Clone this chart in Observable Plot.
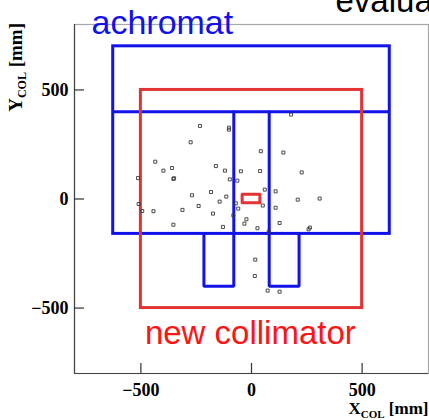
<!DOCTYPE html>
<html>
<head>
<meta charset="utf-8">
<script src="https://cdn.jsdelivr.net/npm/d3@7"></script>
<script src="https://cdn.jsdelivr.net/npm/@observablehq/plot@0.6"></script>
<style>
  html, body { margin: 0; padding: 0; background: #fff; }
  #chart svg { display: block; }
</style>
</head>
<body>
<div id="chart"></div>
<script>
// Axis extent and tick positions (mm)
const xDomain = [-800, 800];
const yDomain = [-800, 800];
const xTicks = [-500, 0, 500];
const yTicks = [-500, 0, 500];

// Achromat aperture outline (mm)
const achromatBoxX = [-625, 625];
const achromatBoxY = [-160, 700];
const achromatDividerY = 400;
const achromatLegs = [
  [[-80, 400], [-80, -400], [-215, -400], [-215, -160]],
  [[80, 400], [80, -400], [215, -400], [215, -160]]
];

// New collimator outline (mm)
const collimatorX = [-500, 500];
const collimatorY = [-500, 500];
const holeX = [-40, 40];
const holeY = [-20, 20];

// Recorded hit positions (mm)
const hitX = [-233, -102, -102, -275, 179, 42, 144, -435, -398, -359, -161, -120, -48, 39, 227,
  -353, -350, -98, -64, 60, 109, -183, -269, -114, 209, 308, -144, -494, -443, -312, -239, -174,
  -71, 51, -60, -82, 109, -23, -32, 27, -353, -129, 127, 264, 258, 78, 17, 15, 73, 127, -513, -510];
const hitY = [335, 327, 318, 260, 387, 219, 213, 171, 130, 142, 151, 130, 127, 128, 122,
  92, 95, 90, 84, 43, 35, 32, 17, 11, -3, 2, -12, -55, -56, -50, -32, -67,
  -20, -30, -44, -75, -40, -93, -113, -134, -118, -128, -110, -131, -139, -150, -278, -353, -420, -425, 96, -23];

const hits = hitX.map((x, i) => ({x, y: hitY[i]}));
const legs = achromatLegs.flatMap((pts, k) => pts.map(([x, y]) => ({x, y, leg: k})));

const blue = "#1212ea";
const red = "#e23434";
const serif = "Liberation Serif, Times New Roman, serif";
const sans = "Liberation Sans, Arial, sans-serif";

const W = 429, H = 420;
const M = {left: 74, right: 1, top: 24, bottom: 47};
const frameW = W - M.left - M.right;
const frameH = H - M.top - M.bottom;
const tickLen = 10;
// tick length expressed in data units along each axis
const tickLenX = (xDomain[1] - xDomain[0]) * tickLen / frameW;
const tickLenY = (yDomain[1] - yDomain[0]) * tickLen / frameH;

const chart = Plot.plot({
  width: W,
  height: H,
  marginLeft: M.left,
  marginRight: M.right,
  marginTop: M.top,
  marginBottom: M.bottom,
  x: {domain: xDomain, label: null},
  y: {domain: yDomain, label: null},
  style: {background: "white", overflow: "hidden"},
  marks: [
    // plot frame: light top/right, dark left/bottom
    Plot.frame({stroke: "#a8a8a8", strokeWidth: 1.2}),
    Plot.ruleX([xDomain[0]], {stroke: "#444", strokeWidth: 1.2}),
    Plot.ruleY([yDomain[0]], {stroke: "#444", strokeWidth: 1.2}),

    // ticks pointing into the frame from the bottom and left edges
    Plot.ruleX(xTicks, {x: d => d, y1: yDomain[0], y2: yDomain[0] + tickLenY, stroke: "#333", strokeWidth: 1.2}),
    Plot.ruleY(yTicks, {y: d => d, x1: xDomain[0], x2: xDomain[0] + tickLenX, stroke: "#333", strokeWidth: 1.2}),
    // tick labels
    Plot.axisX({ticks: xTicks, tickSize: 0, tickPadding: 10, fontSize: 18, fontWeight: "bold",
      fontFamily: serif, fill: "black", label: null}),
    Plot.axisY({ticks: yTicks, tickSize: 0, tickPadding: 6, fontSize: 18, fontWeight: "bold",
      fontFamily: serif, fill: "black", label: null}),

    // achromat outline
    Plot.rect([0], {x1: achromatBoxX[0], x2: achromatBoxX[1], y1: achromatBoxY[0], y2: achromatBoxY[1],
      fill: "none", stroke: blue, strokeWidth: 3}),
    Plot.ruleY([achromatDividerY], {x1: achromatBoxX[0], x2: achromatBoxX[1], stroke: blue, strokeWidth: 3}),
    Plot.line(legs, {x: "x", y: "y", z: "leg", stroke: blue, strokeWidth: 3, strokeLinejoin: "miter"}),

    // collimator outline and central hole
    Plot.rect([0], {x1: collimatorX[0], x2: collimatorX[1], y1: collimatorY[0], y2: collimatorY[1],
      fill: "none", stroke: red, strokeWidth: 3}),
    Plot.rect([0], {x1: holeX[0], x2: holeX[1], y1: holeY[0], y2: holeY[1],
      fill: "none", stroke: red, strokeWidth: 3, strokeLinejoin: "round"}),

    // hits
    Plot.dot(hits, {x: "x", y: "y", symbol: "square", r: 1.7, fill: "none", stroke: "#3a3a3a", strokeWidth: 0.9}),

    // region labels
    Plot.text(["achromat"], {frameAnchor: "top-left", dx: 17, dy: -1, textAnchor: "start", lineAnchor: "middle",
      fontSize: 34, fontFamily: sans, fill: "#1010f0"}),
    Plot.text(["new collimator"], {x: collimatorX[0], y: collimatorY[0], dx: 4, dy: 25, textAnchor: "start",
      lineAnchor: "middle", fontSize: 33, fontFamily: sans, fill: "#ff1414"}),
    Plot.text(["evaluation"], {frameAnchor: "top-left", dx: 261, dy: -23, textAnchor: "start", lineAnchor: "middle",
      fontSize: 33, fontFamily: sans, fill: "black"}),

    // axis titles (subscripts added below)
    Plot.text(["X"], {frameAnchor: "bottom-right", dx: 0, dy: 35, textAnchor: "end", lineAnchor: "middle",
      fontSize: 17, fontWeight: "bold", fontFamily: serif, fill: "black", className: "xtitle"}),
    Plot.text(["Y"], {frameAnchor: "top-left", textAnchor: "end", lineAnchor: "middle",
      fontSize: 19, fontWeight: "bold", fontFamily: serif, fill: "black", className: "ytitle"})
  ]
});

// axis titles with a "COL" subscript
function subscriptTitle(sel, letter, subSize) {
  sel.each(function () {
    const t = d3.select(this);
    t.text(null);
    t.append("tspan").text(letter);
    t.append("tspan").attr("font-size", subSize).attr("dy", 4).text("COL");
    t.append("tspan").attr("dy", -4).text(" [mm]");
  });
}
const svg = d3.select(chart);
subscriptTitle(svg.selectAll(".xtitle text"), "X", 11);
const ytitle = svg.selectAll(".ytitle text");
subscriptTitle(ytitle, "Y", 12);
// vertical title, reading upward, ending near the top of the frame
svg.selectAll(".ytitle").attr("transform", null);
ytitle.attr("x", null).attr("y", null)
  .attr("transform", `translate(${M.left - 52},${M.top - 1}) rotate(-90)`);

document.getElementById("chart").appendChild(chart);
</script>
</body>
</html>
